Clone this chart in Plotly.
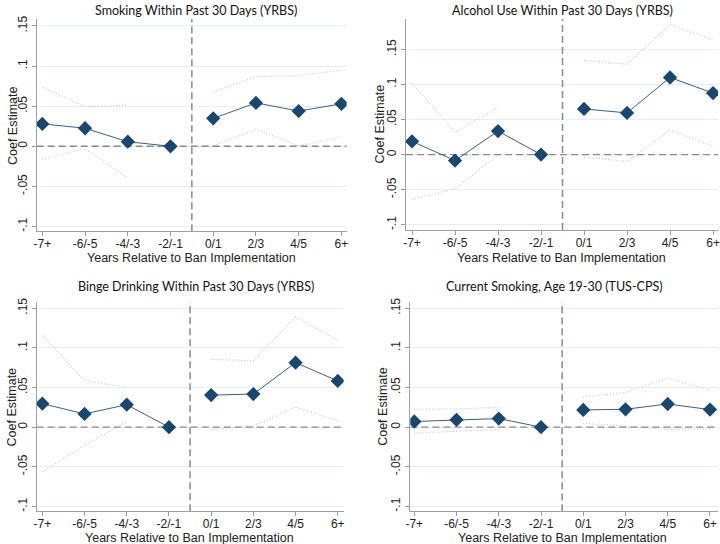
import plotly.graph_objects as go

categories = ["-7+", "-6/-5", "-4/-3", "-2/-1", "0/1", "2/3", "4/5", "6+"]

titles = [
    "Smoking Within Past 30 Days (YRBS)",
    "Alcohol Use Within Past 30 Days (YRBS)",
    "Binge Drinking Within Past 30 Days (YRBS)",
    "Current Smoking, Age 19-30 (TUS-CPS)",
]

smoking_est = [0.0279, 0.0225, 0.0057, 0.0, 0.0348, 0.0541, 0.0439, 0.0529]
smoking_hi = [0.0738, 0.0492, 0.0512, None, 0.0676, 0.0869, 0.0881, 0.0951]
smoking_lo = [-0.0164, -0.0029, -0.0398, None, 0.0008, 0.0213, 0.0005, 0.0115]

alcohol_est = [0.0189, -0.0085, 0.0335, 0.0, 0.0651, 0.0594, 0.1099, 0.0877]
alcohol_hi = [0.1014, 0.0321, 0.0670, None, 0.1344, 0.1288, 0.1854, 0.1637]
alcohol_lo = [-0.0637, -0.0486, -0.0005, None, -0.0033, -0.0099, 0.0354, 0.0118]

binge_est = [0.0296, 0.0167, 0.0283, 0.0, 0.0404, 0.0417, 0.0813, 0.0583]
binge_hi = [0.1154, 0.0588, 0.0500, None, 0.0854, 0.0838, 0.1388, 0.1096]
binge_lo = [-0.0563, -0.0229, 0.0067, None, -0.0033, 0.0013, 0.0254, 0.0079]

tus_est = [0.0071, 0.0092, 0.0108, 0.0, 0.0217, 0.0225, 0.0292, 0.0221]
tus_hi = [0.0225, 0.0229, 0.0250, None, 0.0379, 0.0438, 0.0617, 0.0463]
tus_lo = [-0.0075, -0.0050, -0.0029, None, 0.0050, 0.0013, -0.0029, -0.0020]

ytick_vals = [-0.1, -0.05, 0, 0.05, 0.1, 0.15]
ytick_text = ["-.1", "-.05", "0", ".05", ".1", ".15"]

panels = [
    (smoking_est, smoking_hi, smoking_lo),
    (alcohol_est, alcohol_hi, alcohol_lo),
    (binge_est, binge_hi, binge_lo),
    (tus_est, tus_hi, tus_lo),
]

W, H = 720, 544
# plot-area pixel boxes: (left, right, top, bottom)
boxes = [(32, 345, 15, 229), (405, 720, 15, 227.7), (32, 342, 300, 511), (409.3, 720, 300, 511)]
xranges = [[-0.132, 7.123], [-0.138, 7.115], [-0.134, 7.14], [-0.094, 7.19]]
yranges = [[-0.106, 0.1588], [-0.1075, 0.1934], [-0.106, 0.158], [-0.106, 0.158]]

NAVY = "#1a476f"
TICKFONT = dict(family="Liberation Sans, Arial", size=12, color="#222")
fig = go.Figure()

x_idx = list(range(len(categories)))
for i, (est, hi, lo) in enumerate(panels):
    ax = "" if i == 0 else str(i + 1)
    xa, ya = "x" + ax, "y" + ax
    # CI dotted lines
    for band in (hi, lo):
        fig.add_trace(go.Scatter(x=x_idx, y=band, mode="lines", xaxis=xa, yaxis=ya,
                                 line=dict(color="#c6c6c6", width=1.2, dash="1px,2px"),
                                 connectgaps=False, showlegend=False, hoverinfo="skip"))
    # zero dashed line
    fig.add_trace(go.Scatter(x=xranges[i], y=[0, 0], mode="lines", xaxis=xa, yaxis=ya,
                             line=dict(color="#8a8a8a", width=1.4, dash="7px,4px"),
                             showlegend=False, hoverinfo="skip"))
    # vertical dashed line between pre and post
    fig.add_trace(go.Scatter(x=[3.5, 3.5], y=yranges[i], mode="lines", xaxis=xa, yaxis=ya,
                             line=dict(color="#8a8a8a", width=1.5, dash="7px,4px"),
                             showlegend=False, hoverinfo="skip"))
    # estimates: pre and post segments
    for seg in (slice(0, 4), slice(4, 8)):
        fig.add_trace(go.Scatter(x=x_idx[seg], y=est[seg], mode="lines+markers", xaxis=xa, yaxis=ya,
                                 line=dict(color="#3d5f80", width=1),
                                 marker=dict(symbol="diamond", size=11, color=NAVY),
                                 showlegend=False))

    l, r, t, b = boxes[i]
    fig.layout["xaxis" + ax] = dict(
        domain=[l / W, min(r / W, 1)], anchor=ya, range=xranges[i],
        tickvals=x_idx, ticktext=categories, ticks="outside", ticklen=4, tickcolor="#999",
        showline=True, linecolor="#a0a0a0", linewidth=1.2, showgrid=False, zeroline=False,
        ticklabelstandoff=-3, tickfont=TICKFONT, fixedrange=True)
    fig.layout["yaxis" + ax] = dict(
        domain=[1 - b / H, 1 - t / H], anchor=xa, range=yranges[i],
        tickvals=ytick_vals, ticktext=ytick_text, tickangle=-90, ticks="outside", ticklen=4,
        tickcolor="#999", showline=True, linecolor="#a0a0a0", linewidth=1.2,
        showgrid=True, gridcolor="#e6eff1", gridwidth=1, zeroline=False,
        tickfont=TICKFONT, fixedrange=True)

# titles and axis titles
title_pos = [(193, 7), (563, 7), (192.5, 285), (555, 285)]
ytitle_pos = [(8, 122), (379, 121), (7, 405.5), (381, 405.5)]
xtitle_pos = [(188, 256), (561.7, 256), (186.7, 537.5), (563, 537.5)]

for i in range(4):
    tx, ty = title_pos[i]
    fig.add_annotation(x=tx / W, y=1 - ty / H, xref="paper", yref="paper", text=titles[i],
                       showarrow=False, xanchor="center", yanchor="middle",
                       font=dict(family="Lato", size=12.5, color="#111"))
    yx, yy = ytitle_pos[i]
    fig.add_annotation(x=yx / W, y=1 - yy / H, xref="paper", yref="paper", text="Coef Estimate",
                       showarrow=False, textangle=-90, xanchor="center", yanchor="middle",
                       font=dict(family="Liberation Sans, Arial", size=12.5, color="#222"))
    xx, xy = xtitle_pos[i]
    fig.add_annotation(x=xx / W, y=1 - xy / H, xref="paper", yref="paper",
                       text="Years Relative to Ban Implementation",
                       showarrow=False, xanchor="center", yanchor="middle",
                       font=dict(family="Liberation Sans, Arial", size=12.5, color="#222"))

fig.update_layout(width=W, height=H, margin=dict(l=0, r=0, t=0, b=0),
                  paper_bgcolor="white", plot_bgcolor="white", showlegend=False)

fig.write_html("out.html", config={"displayModeBar": False},
               post_script="document.body.style.margin='0';")
